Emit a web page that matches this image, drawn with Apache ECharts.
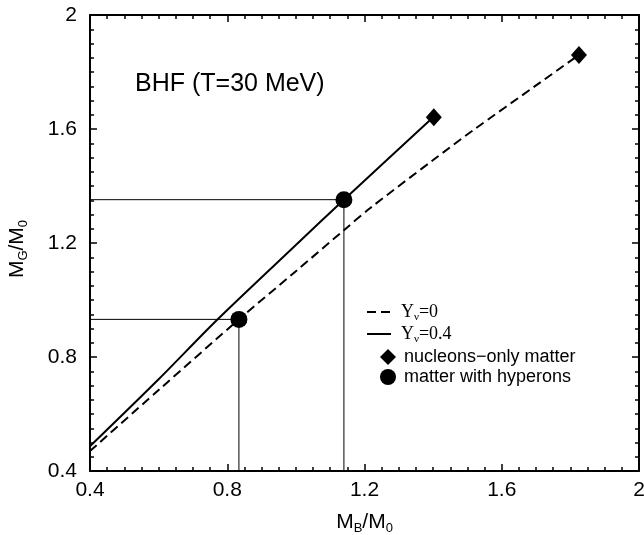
<!DOCTYPE html>
<html>
<head>
<meta charset="utf-8">
<title>BHF mass relation</title>
<script src="https://cdn.jsdelivr.net/npm/echarts@6/dist/echarts.min.js"></script>
<style>
  html, body { margin: 0; padding: 0; background: #fff; }
  #main { width: 644px; height: 535px; }
</style>
</head>
<body>
<div id="main"></div>
<script>
// M_B/M_0 -> M_G/M_0
var dashedMB = [0.40, 0.60, 0.834, 1.00, 1.14, 1.216, 1.40, 1.517, 1.70, 1.825];
var dashedMG = [0.470, 0.684, 0.932, 1.101, 1.245, 1.322, 1.491, 1.596, 1.753, 1.860];
var solidMB = [0.40, 0.60, 0.77, 1.00, 1.14, 1.40];
var solidMG = [0.487, 0.722, 0.930, 1.193, 1.352, 1.641];
// end points (nucleons only) and hyperon onset
var nucleonMB = [1.402, 1.825];
var nucleonMG = [1.641, 1.860];
var hyperonMB = [0.834, 1.14];
var hyperonMG = [0.932, 1.352];
var axisTicks = [0.4, 0.8, 1.2, 1.6, 2];

function pairs(xs, ys) {
  return xs.map(function (x, i) { return [x, ys[i]]; });
}
// guide lines: from the y axis to the dot, then down to the x axis
function guide(i) {
  return [[axisTicks[0], hyperonMG[i]], [hyperonMB[i], hyperonMG[i]], [hyperonMB[i], axisTicks[0]]];
}

var sans = 'Liberation Sans';
var serif = 'Liberation Serif';
var axisMin = axisTicks[0], axisMax = axisTicks[axisTicks.length - 1];
var step = axisTicks[1] - axisTicks[0];

function frameAxis(pos, showLabel, margin, extra) {
  var ax = {
    type: 'value',
    position: pos,
    min: axisMin,
    max: axisMax,
    interval: step,
    axisLine: { show: true, onZero: false, lineStyle: { color: '#000', width: 2 } },
    axisTick: { show: true, inside: true, length: 7, lineStyle: { color: '#000', width: 1.5 } },
    minorTick: { show: true, splitNumber: 8, length: 4, lineStyle: { color: '#000', width: 1.5 } },
    splitLine: { show: false },
    axisLabel: {
      show: showLabel,
      margin: margin,
      fontSize: 21,
      fontFamily: sans,
      color: '#000',
      formatter: function (v) { return String(+v.toFixed(1)); }
    }
  };
  for (var k in extra) ax[k] = extra[k];
  return ax;
}

var nameRich = {
  m: { fontSize: 21, fontFamily: sans, color: '#000', lineHeight: 26 },
  s: { fontSize: 13, fontFamily: sans, color: '#000', lineHeight: 10, verticalAlign: 'bottom' }
};

var chart = echarts.init(document.getElementById('main'));

var option = {
  backgroundColor: '#fff',
  animation: false,
  title: {
    text: 'BHF (T=30 MeV)',
    left: 135,
    top: 72,
    padding: 0,
    textStyle: { fontSize: 25, fontWeight: 'normal', fontFamily: sans, color: '#000' }
  },
  grid: { left: 90, right: 5, top: 15, bottom: 64, outerBoundsMode: 'none' },
  xAxis: [
    frameAxis('bottom', true, 9, {
      name: '{m|M}{s|B}{m|/M}{s|0}',
      nameLocation: 'middle',
      nameGap: 38,
      nameTextStyle: { rich: nameRich }
    }),
    frameAxis('top', false, 9, {})
  ],
  yAxis: [
    frameAxis('left', true, 13, {
      name: '{m|M}{s|G}{m|/M}{s|0}',
      nameLocation: 'middle',
      nameGap: 60,
      nameRotate: 90,
      nameTextStyle: { rich: nameRich, padding: [0, 12, 0, 0] }
    }),
    frameAxis('right', false, 13, {})
  ],
  legend: [
    {
      orient: 'vertical',
      left: 366,
      top: 303,
      padding: 0,
      itemWidth: 24,
      itemHeight: 12,
      itemGap: 2,
      data: ['Yν=0', 'Yν=0.4'],
      itemStyle: { opacity: 0 },
      formatter: function (name) {
        return '{t|Y}{s|ν}{t|' + name.slice(2) + '}';
      },
      textStyle: {
        padding: [0, 0, 0, 5],
        rich: {
          t: { fontSize: 18, fontFamily: serif, color: '#000', lineHeight: 22 },
          s: { fontSize: 11, fontFamily: serif, color: '#000', lineHeight: 8, verticalAlign: 'bottom' }
        }
      }
    },
    {
      orient: 'vertical',
      left: 380,
      top: 347,
      padding: 0,
      itemWidth: 16,
      itemHeight: 16,
      itemGap: 0,
      data: ['nucleons−only matter', 'matter with hyperons'],
      textStyle: {
        padding: [0, 0, 0, 3],
        fontSize: 18,
        fontFamily: sans,
        color: '#000',
        lineHeight: 20
      }
    }
  ],
  series: [
    {
      name: 'guideLow',
      type: 'line',
      data: guide(0),
      symbol: 'none',
      silent: true,
      lineStyle: { color: '#000', width: 1 },
      z: 1
    },
    {
      name: 'guideHigh',
      type: 'line',
      data: guide(1),
      symbol: 'none',
      silent: true,
      lineStyle: { color: '#000', width: 1 },
      z: 1
    },
    {
      name: 'Yν=0',
      type: 'line',
      data: pairs(dashedMB, dashedMG),
      symbol: 'none',
      smooth: 0.3,
      itemStyle: { color: '#000' },
      lineStyle: { color: '#000', width: 2, type: [9, 5] }
    },
    {
      name: 'Yν=0.4',
      type: 'line',
      data: pairs(solidMB, solidMG),
      symbol: 'none',
      smooth: 0.3,
      itemStyle: { color: '#000' },
      lineStyle: { color: '#000', width: 2 }
    },
    {
      name: 'nucleons−only matter',
      type: 'scatter',
      data: pairs(nucleonMB, nucleonMG),
      symbol: 'diamond',
      symbolSize: [16, 18],
      itemStyle: { color: '#000', opacity: 1 },
      z: 5
    },
    {
      name: 'matter with hyperons',
      type: 'scatter',
      data: pairs(hyperonMB, hyperonMG),
      symbol: 'circle',
      symbolSize: 17,
      itemStyle: { color: '#000', opacity: 1 },
      z: 5
    }
  ]
};

chart.setOption(option);
</script>
</body>
</html>
